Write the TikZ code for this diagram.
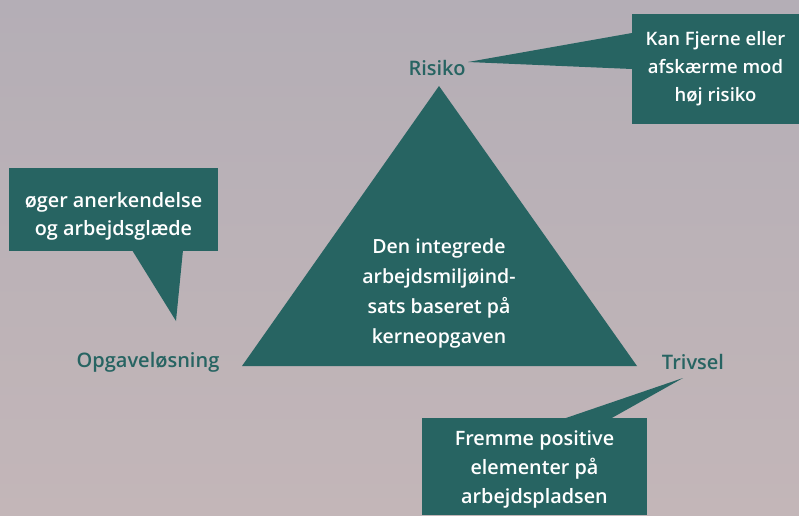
\documentclass[tikz,border=0pt]{standalone}
\usepackage{fontspec}
\setmainfont{Open Sans}[BoldFont={Open Sans Semibold}]
\definecolor{teal}{HTML}{276462}
\definecolor{bgtop}{HTML}{B4AEB6}
\definecolor{bgbot}{HTML}{C3B6B8}
\tikzset{
  shape fill/.style={fill=teal, draw=none},
  boxtext/.style={text=white, font=\bfseries\fontsize{18.5}{28}\selectfont, align=center},
  lbl/.style={text=teal, font=\bfseries\fontsize{20}{22}\selectfont},
}
\begin{document}
\begin{tikzpicture}[x=1pt,y=-1pt]
\shade[top color=bgtop, bottom color=bgbot] (0,0) rectangle (799,515);
\useasboundingbox (0,0) rectangle (799,515);
% triangle
\fill[shape fill] (439,86) -- (637,366) -- (242,366) -- cycle;
\node[boxtext, font=\bfseries\fontsize{19.5}{30}\selectfont] (tri) at (439,293) {Den integrede\\arbejdsmiljøind-\\sats baseret på\\kerneopgaven};
% labels
\node[lbl] (risiko) at (437,68) {Risiko};
\node[lbl] (opg) at (148,362) {Opgaveløsning};
\node[lbl] (trivsel) at (693,362) {Trivsel};
% top-right callout
\coordinate (t1) at (468,62);
\fill[shape fill] (632,14) rectangle (799,124);
\fill[shape fill] (632,33) -- (t1) -- (632,69) -- cycle;
\node[boxtext] (kan) at (715.5,69) {Kan Fjerne eller\\afskærme mod\\høj risiko};
% left callout
\coordinate (t2) at (176,321);
\fill[shape fill] (9,168) rectangle (218,251);
\fill[shape fill] (132,250) -- (t2) -- (183,250) -- cycle;
\node[boxtext, font=\bfseries\fontsize{19.8}{28}\selectfont] (oeger) at (113.5,216) {øger anerkendelse\\og arbejdsglæde};
% bottom callout
\coordinate (t3) at (683,378);
\fill[shape fill] (422,418) rectangle (647,515);
\fill[shape fill] (563,419) -- (t3) -- (610,419) -- cycle;
\node[boxtext, font=\bfseries\fontsize{19.8}{29}\selectfont] (fremme) at (534.5,469) {Fremme positive\\elementer på\\arbejdspladsen};
\end{tikzpicture}
\end{document}
